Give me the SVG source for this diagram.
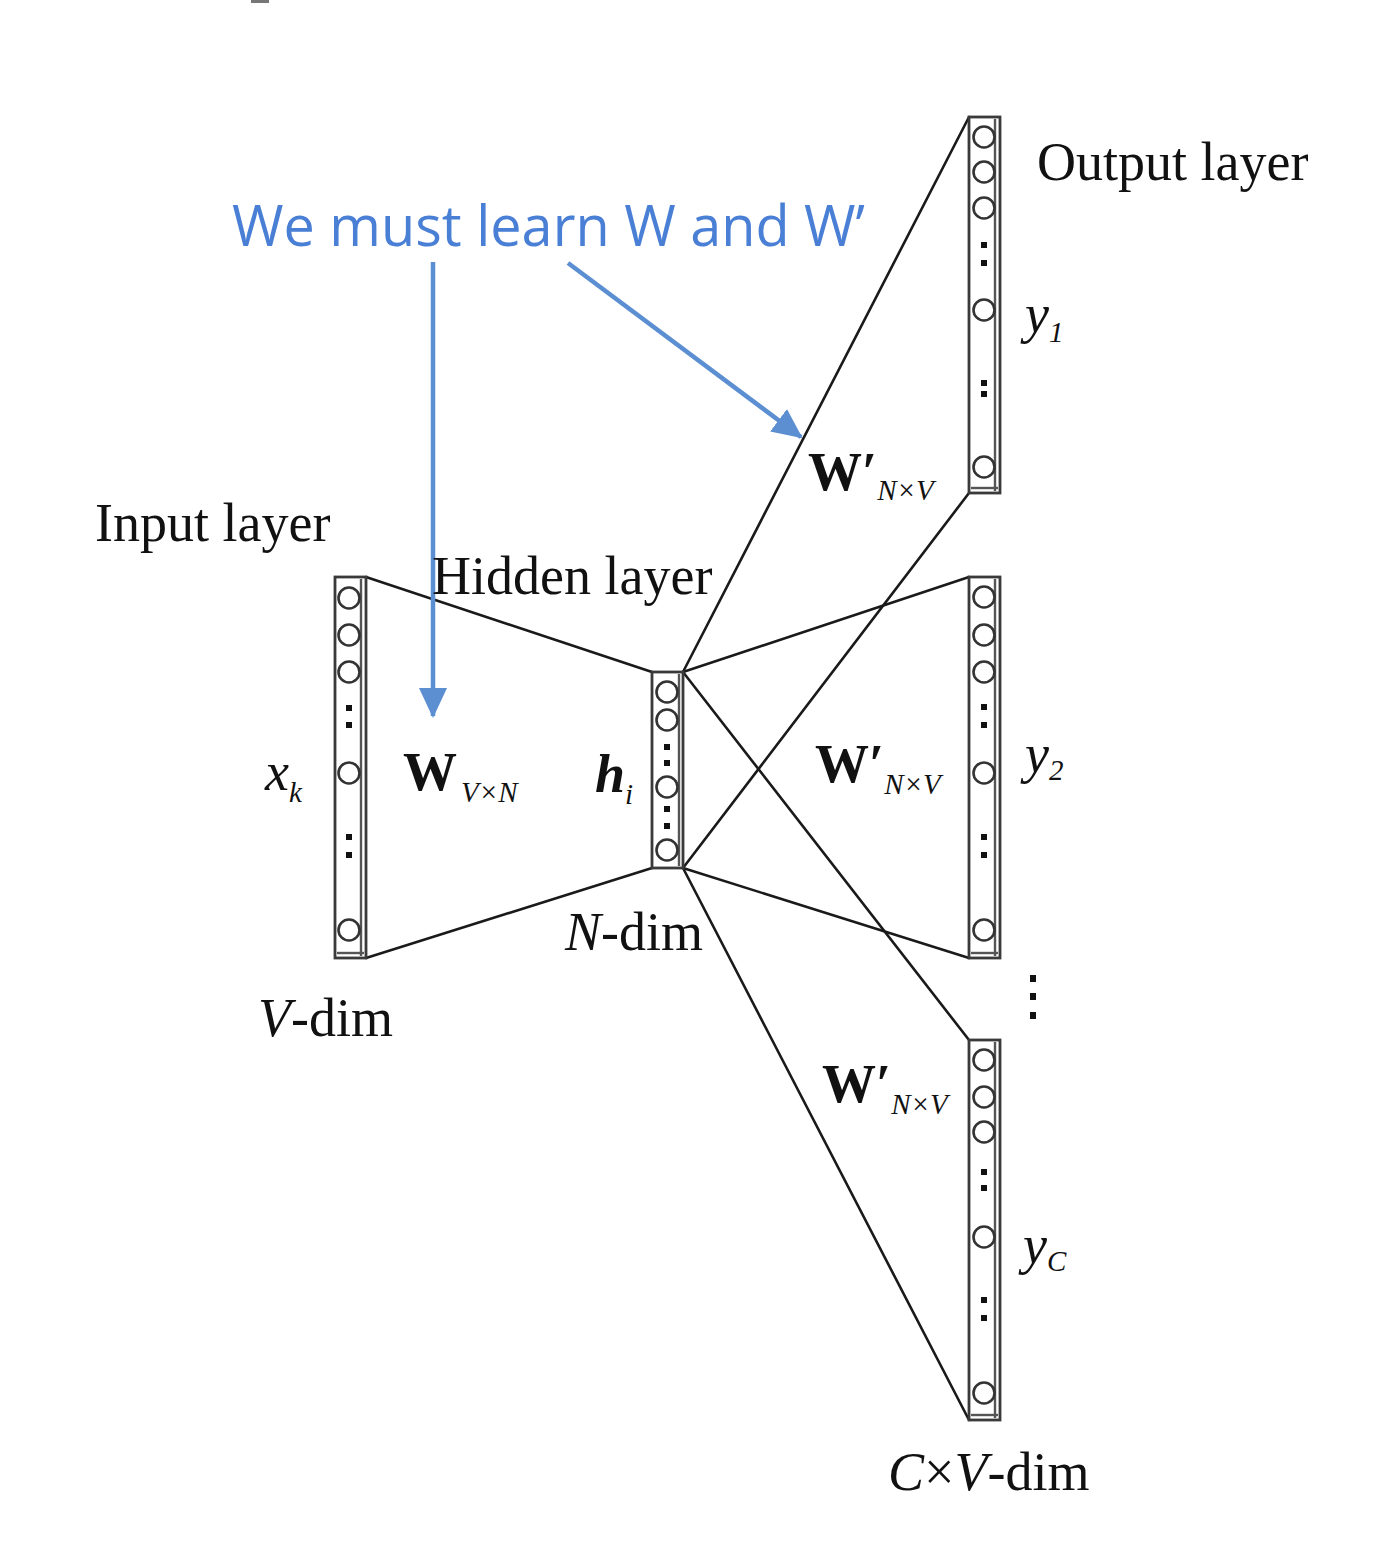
<svg xmlns="http://www.w3.org/2000/svg" width="1392" height="1546" viewBox="0 0 1392 1546">
<defs>
<style>
.col{fill:#fff;stroke:#3a3a3a;stroke-width:2.8}
.inner{stroke:#555;stroke-width:2.4;fill:none}
.node{fill:#fff;stroke:#333;stroke-width:2.6}
.dot{fill:#111}
.link{stroke:#1a1a1a;stroke-width:2.6;fill:none;stroke-linecap:round}
.blue{stroke:#5b8fd2;stroke-width:4.5;fill:none}
.t{font-family:"Liberation Serif","Times New Roman",serif;fill:#111}
.lbl{font-size:54px}
.it{font-style:italic}
.b{font-weight:bold}
.sub{font-size:29px;font-style:italic}
.note{font-family:"Open Sans","Liberation Sans",sans-serif;font-size:56px;fill:#4a7fd6}
</style>
<marker id="ah" viewBox="0 0 30 28" refX="28" refY="14" markerWidth="30" markerHeight="28" markerUnits="userSpaceOnUse" orient="auto">
<path d="M0,0 L30,14 L0,28 Z" fill="#5b8fd2"/>
</marker>
</defs>
<rect id="artifact" x="251" y="0" width="18" height="3" fill="#777"/>

<g id="connectors">
<line class="link" x1="366" y1="577" x2="652" y2="672"/>
<line class="link" x1="366" y1="958" x2="652" y2="868"/>
<line class="link" x1="683" y1="672" x2="969" y2="117"/>
<line class="link" x1="683" y1="868" x2="969" y2="493"/>
<line class="link" x1="683" y1="672" x2="969" y2="577"/>
<line class="link" x1="683" y1="868" x2="969" y2="958"/>
<line class="link" x1="683" y1="672" x2="969" y2="1040"/>
<line class="link" x1="683" y1="868" x2="969" y2="1420"/>
<line class="blue" x1="433" y1="262" x2="433" y2="716" marker-end="url(#ah)"/>
<line class="blue" x1="568" y1="263" x2="801" y2="437" marker-end="url(#ah)"/>
</g>

<g id="input-layer">
<rect class="col" x="335" y="577" width="31" height="381"/>
<line class="inner" x1="361" y1="579" x2="361" y2="956"/>
<line class="inner" x1="337" y1="953" x2="364" y2="953"/>
<circle class="node" cx="349" cy="598" r="10.5"/>
<circle class="node" cx="349" cy="635" r="10.5"/>
<circle class="node" cx="349" cy="672" r="10.5"/>
<rect class="dot" x="346" y="705" width="6" height="6"/>
<rect class="dot" x="346" y="722" width="6" height="6"/>
<circle class="node" cx="349" cy="773" r="10.5"/>
<rect class="dot" x="346" y="834" width="6" height="6"/>
<rect class="dot" x="346" y="852" width="6" height="6"/>
<circle class="node" cx="349" cy="930" r="10.5"/>
</g>

<g id="hidden-layer">
<rect class="col" x="652" y="672" width="31" height="196"/>
<line class="inner" x1="679" y1="674" x2="679" y2="866"/>
<circle class="node" cx="667" cy="692" r="10.5"/>
<circle class="node" cx="667" cy="720" r="10.5"/>
<rect class="dot" x="664" y="744" width="6" height="6"/>
<rect class="dot" x="664" y="760" width="6" height="6"/>
<circle class="node" cx="667" cy="787" r="10.5"/>
<rect class="dot" x="664" y="806" width="6" height="6"/>
<rect class="dot" x="664" y="823" width="6" height="6"/>
<circle class="node" cx="667" cy="850" r="10.5"/>
</g>

<g id="output-1">
<rect class="col" x="969" y="117" width="31" height="376"/>
<line class="inner" x1="995" y1="119" x2="995" y2="491"/>
<line class="inner" x1="971" y1="488" x2="998" y2="488"/>
<circle class="node" cx="984" cy="137" r="10.5"/>
<circle class="node" cx="984" cy="172" r="10.5"/>
<circle class="node" cx="984" cy="208" r="10.5"/>
<rect class="dot" x="981" y="242" width="6" height="6"/>
<rect class="dot" x="981" y="260" width="6" height="6"/>
<circle class="node" cx="984" cy="310" r="10.5"/>
<rect class="dot" x="981" y="380" width="6" height="6"/>
<rect class="dot" x="981" y="391" width="6" height="6"/>
<circle class="node" cx="984" cy="467" r="10.5"/>
</g>

<g id="output-2">
<rect class="col" x="969" y="577" width="31" height="381"/>
<line class="inner" x1="995" y1="579" x2="995" y2="956"/>
<line class="inner" x1="971" y1="953" x2="998" y2="953"/>
<circle class="node" cx="984" cy="597" r="10.5"/>
<circle class="node" cx="984" cy="635" r="10.5"/>
<circle class="node" cx="984" cy="672" r="10.5"/>
<rect class="dot" x="981" y="704" width="6" height="6"/>
<rect class="dot" x="981" y="722" width="6" height="6"/>
<circle class="node" cx="984" cy="773" r="10.5"/>
<rect class="dot" x="981" y="834" width="6" height="6"/>
<rect class="dot" x="981" y="852" width="6" height="6"/>
<circle class="node" cx="984" cy="930" r="10.5"/>
</g>

<g id="output-c">
<rect class="col" x="969" y="1040" width="31" height="380"/>
<line class="inner" x1="995" y1="1042" x2="995" y2="1418"/>
<line class="inner" x1="971" y1="1415" x2="998" y2="1415"/>
<circle class="node" cx="984" cy="1060" r="10.5"/>
<circle class="node" cx="984" cy="1097" r="10.5"/>
<circle class="node" cx="984" cy="1132" r="10.5"/>
<rect class="dot" x="981" y="1169" width="6" height="6"/>
<rect class="dot" x="981" y="1185" width="6" height="6"/>
<circle class="node" cx="984" cy="1237" r="10.5"/>
<rect class="dot" x="981" y="1297" width="6" height="6"/>
<rect class="dot" x="981" y="1315" width="6" height="6"/>
<circle class="node" cx="984" cy="1393" r="10.5"/>
</g>

<g id="more-dots">
<rect class="dot" x="1030" y="975" width="6" height="7"/>
<rect class="dot" x="1030" y="993" width="6" height="7"/>
<rect class="dot" x="1030" y="1012" width="6" height="7"/>
</g>

<g id="labels">
<text class="note" x="232" y="246" textLength="633" lengthAdjust="spacingAndGlyphs">We must learn W and W’</text>
<text class="t lbl" x="1037" y="180">Output layer</text>
<text class="t lbl" x="95" y="541">Input layer</text>
<text class="t lbl" x="432" y="594">Hidden layer</text>
<text class="t lbl" x="565" y="950"><tspan class="it">N</tspan>-dim</text>
<text class="t lbl" x="258" y="1036"><tspan class="it">V</tspan>-dim</text>
<text class="t lbl" x="888" y="1490"><tspan class="it">C</tspan>×<tspan class="it">V</tspan>-dim</text>
<text class="t lbl it" x="1025" y="332">y<tspan class="sub" dy="10">1</tspan></text>
<text class="t lbl it" x="1025" y="772">y<tspan class="sub" dy="8">2</tspan></text>
<text class="t lbl it" x="1023" y="1263">y<tspan class="sub" dy="8">C</tspan></text>
<text class="t lbl it" x="265" y="790">x<tspan class="sub" dy="12">k</tspan></text>
<text class="t lbl it b" x="595" y="792">h<tspan class="sub" dy="12" font-weight="normal">i</tspan></text>
<text class="t lbl b" x="403" y="790">W<tspan class="sub" dx="4" dy="12" font-weight="normal">V×N</tspan></text>
<text class="t lbl b" x="808" y="490">W′<tspan class="sub" dy="10" font-weight="normal">N×V</tspan></text>
<text class="t lbl b" x="815" y="782">W′<tspan class="sub" dy="12" font-weight="normal">N×V</tspan></text>
<text class="t lbl b" x="822" y="1102">W′<tspan class="sub" dy="12" font-weight="normal">N×V</tspan></text>
</g>
</svg>
